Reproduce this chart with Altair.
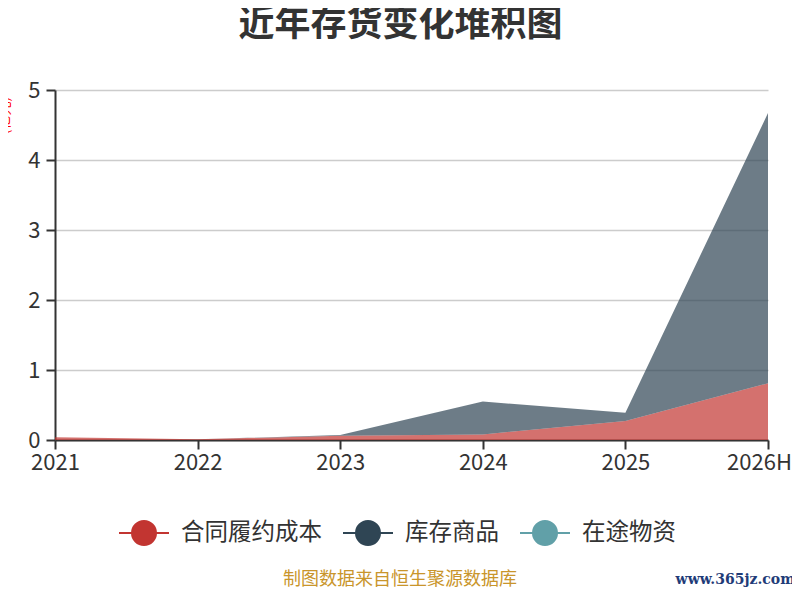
import altair as alt
import pandas as pd

years = ["2021", "2022", "2023", "2024", "2025", "2026H"]
series_names = ["合同履约成本", "库存商品", "在途物资"]
contract_cost = [0.04, 0.01, 0.06, 0.08, 0.27, 0.81]
goods_stock = [0.00, 0.00, 0.01, 0.47, 0.12, 3.86]
goods_transit = [0.00, 0.00, 0.00, 0.00, 0.00, 0.00]
colors = ["#c23531", "#2f4554", "#61a0a8"]

rows = []
for i, (name, vals) in enumerate(zip(series_names, [contract_cost, goods_stock, goods_transit])):
    for y, v in zip(years, vals):
        rows.append({"year": y, "series": name, "value": v, "idx": i})
df = pd.DataFrame(rows)

FONT = "Noto Sans CJK SC"
scale = alt.Scale(domain=series_names, range=colors)
sym = "M-1,0L1,0M-0.48,0A0.48,0.48,0,1,1,0.48,0A0.48,0.48,0,1,1,-0.48,0Z"

area = alt.Chart(df).mark_area(fillOpacity=0.7, strokeWidth=0, strokeOpacity=0).encode(
    x=alt.X("year:N", sort=years, scale=alt.Scale(type="point", padding=0),
            axis=alt.Axis(title=None, labelAngle=0, labelFontSize=22, labelColor="#333",
                          labelFont=FONT, domainColor="#333", domainWidth=2,
                          tickColor="#333", tickWidth=2, tickSize=9, labelPadding=3,
                          labelOffset={"condition": {"test": "datum.value === '2026H'", "value": -9},
                                       "value": 0},
                          grid=False)),
    y=alt.Y("value:Q", stack="zero", scale=alt.Scale(domain=[0, 5], nice=False),
            axis=alt.Axis(title="(亿元)", titleColor="red", titleFont=FONT, titleFontSize=14,
                          titleFontWeight="normal", titleX=-44, titleY=25, titleAngle=-90,
                          titleBaseline="bottom",
                          values=[0, 1, 2, 3, 4, 5], format="d", labelFontSize=22,
                          labelColor="#333", labelFont=FONT, domainColor="#333",
                          domainWidth=2, tickColor="#333", tickWidth=2, tickSize=9,
                          labelPadding=6, grid=True, gridColor="#cccccc", gridWidth=1.5)),
    color=alt.Color("series:N", scale=scale, sort=series_names,
                    legend=alt.Legend(title=None, orient="none", direction="horizontal",
                                      legendX=63, legendY=417, symbolType=sym, symbolSize=2500,
                                      symbolStrokeWidth=2, symbolOpacity=1, labelFontSize=23.5,
                                      labelFont=FONT, labelColor="#333", labelOffset=11,
                                      columnPadding=17, labelLimit=300)),
    stroke=alt.Stroke("series:N", scale=scale, sort=series_names),
    order=alt.Order("idx:Q", sort="ascending"),
)

footer = alt.Chart(pd.DataFrame({"t": ["制图数据来自恒生聚源数据库"]})).mark_text(
    font=FONT, fontSize=18, color="#c9952b", align="center", baseline="alphabetic"
).encode(x=alt.value(345), y=alt.value(495), text="t:N")

mark = alt.Chart(pd.DataFrame({"t": ["www.365jz.com"]})).mark_text(
    font="DejaVu Serif", fontSize=14, fontWeight="bold", color="#1f3c78", align="right",
    baseline="alphabetic"
).encode(x=alt.value(740), y=alt.value(494), text="t:N")

chart = alt.layer(area, footer, mark).properties(
    width=713, height=350,
    padding={"left": 47, "top": 82, "right": 24, "bottom": 150},
    autosize=alt.AutoSizeParams(type="none"),
    title=alt.TitleParams("近年存货变化堆积图", font=FONT, fontSize=36, fontWeight="bold",
                          color="#333", anchor="middle", offset=35, dx=-11),
).configure_view(stroke=None)

chart.save("out.html", embed_options={"renderer": "svg", "actions": False})
